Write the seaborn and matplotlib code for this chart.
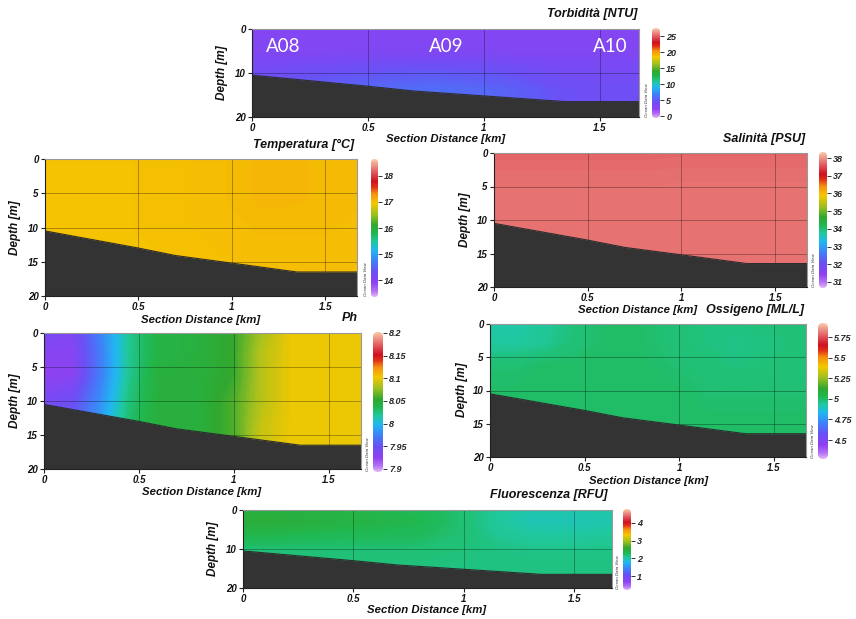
import numpy as np
import matplotlib
matplotlib.use("Agg")
import matplotlib.pyplot as plt
from matplotlib.colors import LinearSegmentedColormap
from matplotlib.patches import FancyBboxPatch
import seaborn as sns

# ---------------------------------------------------------------- data
dist_km = [0, 0.15, 0.3, 0.45, 0.6, 0.8, 1.0, 1.15, 1.3, 1.5, 1.67]
depth_m = [0, 3, 6, 10, 14, 20]

seafloor_dist = [0, 0.5, 0.7, 1.0, 1.35, 1.67]
seafloor_depth = [10.5, 13.0, 14.1, 15.2, 16.5, 16.5]

stations = ["A08", "A09", "A10"]
station_dist = [0.134, 0.836, 1.547]
station_depth = [3.9, 3.9, 3.9]

x_ticks = [0, 0.5, 1, 1.5]

turbidity = [
    [3.0, 3.0, 3.0, 3.0, 3.0, 3.0, 3.0, 3.0, 3.0, 3.0, 3.0],
    [3.1, 3.1, 3.1, 3.1, 3.1, 3.1, 3.1, 3.1, 3.1, 3.1, 3.1],
    [3.3, 3.3, 3.3, 3.4, 3.4, 3.4, 3.4, 3.3, 3.3, 3.3, 3.3],
    [4.0, 4.2, 4.4, 4.6, 4.8, 4.9, 4.7, 4.4, 4.0, 3.8, 3.8],
    [5.0, 5.2, 5.4, 5.6, 5.8, 5.9, 5.6, 5.2, 4.6, 4.2, 4.2],
    [5.0, 5.2, 5.4, 5.6, 5.8, 5.9, 5.6, 5.2, 4.6, 4.2, 4.2],
]

temperature = [
    [17.0, 17.0, 17.0, 17.0, 17.01, 17.02, 17.04, 17.06, 17.06, 17.05, 17.04],
    [17.0, 17.0, 17.0, 17.0, 17.01, 17.02, 17.04, 17.06, 17.06, 17.05, 17.04],
    [17.0, 17.0, 17.0, 17.0, 17.01, 17.02, 17.04, 17.06, 17.06, 17.05, 17.04],
    [17.0, 17.0, 17.0, 17.0, 17.01, 17.02, 17.03, 17.04, 17.04, 17.04, 17.03],
    [17.0, 17.0, 17.0, 17.0, 17.0, 17.01, 17.02, 17.03, 17.03, 17.03, 17.03],
    [17.0, 17.0, 17.0, 17.0, 17.0, 17.01, 17.02, 17.03, 17.03, 17.03, 17.03],
]

salinity = [
    [37.66, 37.66, 37.66, 37.66, 37.66, 37.66, 37.68, 37.68, 37.68, 37.68, 37.68],
    [37.76, 37.76, 37.76, 37.76, 37.76, 37.76, 37.77, 37.77, 37.77, 37.77, 37.77],
    [37.78, 37.78, 37.78, 37.78, 37.78, 37.78, 37.78, 37.78, 37.78, 37.78, 37.78],
    [37.78, 37.78, 37.78, 37.78, 37.78, 37.78, 37.78, 37.78, 37.78, 37.78, 37.78],
    [37.78, 37.78, 37.78, 37.78, 37.78, 37.78, 37.78, 37.78, 37.78, 37.78, 37.78],
    [37.78, 37.78, 37.78, 37.78, 37.78, 37.78, 37.78, 37.78, 37.78, 37.78, 37.78],
]

ph = [
    [7.94, 7.935, 7.975, 8.02, 8.04, 8.045, 8.055, 8.08, 8.10, 8.10, 8.10],
    [7.93, 7.93, 7.972, 8.02, 8.04, 8.045, 8.055, 8.085, 8.10, 8.10, 8.10],
    [7.925, 7.928, 7.972, 8.02, 8.045, 8.045, 8.055, 8.085, 8.10, 8.10, 8.10],
    [7.94, 7.945, 7.98, 8.025, 8.045, 8.045, 8.06, 8.085, 8.10, 8.10, 8.10],
    [7.95, 7.955, 7.99, 8.03, 8.045, 8.045, 8.06, 8.09, 8.10, 8.10, 8.10],
    [7.95, 7.955, 7.99, 8.03, 8.045, 8.045, 8.06, 8.09, 8.10, 8.10, 8.10],
]

oxygen = [
    [4.92, 4.92, 4.94, 4.98, 5.0, 5.0, 4.98, 4.97, 4.97, 4.98, 4.98],
    [4.93, 4.93, 4.95, 4.98, 5.0, 5.0, 4.98, 4.97, 4.96, 4.97, 4.98],
    [4.99, 4.99, 5.0, 5.0, 5.0, 5.0, 4.99, 4.98, 4.97, 4.98, 4.98],
    [5.0, 5.0, 5.0, 5.0, 5.0, 5.0, 5.0, 4.99, 4.99, 4.99, 4.99],
    [5.0, 5.0, 5.0, 5.0, 5.0, 5.0, 5.0, 5.0, 5.0, 5.0, 5.0],
    [5.0, 5.0, 5.0, 5.0, 5.0, 5.0, 5.0, 5.0, 5.0, 5.0, 5.0],
]

fluorescence = [
    [2.45, 2.45, 2.42, 2.38, 2.34, 2.3, 2.2, 2.06, 2.0, 2.0, 2.02],
    [2.5, 2.5, 2.46, 2.42, 2.38, 2.33, 2.2, 2.05, 1.98, 1.98, 2.0],
    [2.35, 2.35, 2.32, 2.3, 2.3, 2.28, 2.2, 2.08, 2.03, 2.03, 2.05],
    [2.2, 2.2, 2.2, 2.2, 2.2, 2.2, 2.17, 2.14, 2.12, 2.12, 2.12],
    [2.16, 2.16, 2.16, 2.16, 2.16, 2.16, 2.15, 2.15, 2.15, 2.15, 2.15],
    [2.16, 2.16, 2.16, 2.16, 2.16, 2.16, 2.15, 2.15, 2.15, 2.15, 2.15],
]

# ---------------------------------------------------------------- style
sns.set_theme(style="white")
plt.rcParams["font.family"] = ["Liberation Sans", "DejaVu Sans"]
plt.rcParams["font.weight"] = "bold"
plt.rcParams["font.style"] = "italic"

odv = LinearSegmentedColormap.from_list("odv", [
    (0.00, "#e2b4f8"), (0.04, "#b474f5"), (0.10, "#9040f0"),
    (0.18, "#6a50f5"), (0.26, "#3f80f8"), (0.34, "#20b8f0"),
    (0.40, "#20c8a0"), (0.46, "#20b850"), (0.52, "#30a830"),
    (0.60, "#a0c020"), (0.68, "#f5c800"), (0.75, "#f59010"),
    (0.80, "#e03018"), (0.84, "#d01020"), (0.92, "#e4686a"),
    (1.00, "#f8c8a8"),
])

W, H = 856, 619
fig = plt.figure(figsize=(W / 100, H / 100), dpi=100)
fig.patch.set_facecolor("white")


def rect(x0, y0, x1, y1):
    return [x0 / W, 1 - y1 / H, (x1 - x0) / W, (y1 - y0) / H]


def ftext(x, y, s, **kw):
    fig.text(x / W, 1 - y / H, s, fontweight="bold", fontstyle="italic", **kw)


panels = [
    dict(values=turbidity, vmin=-0.6, vmax=27.5, cticks=[0, 5, 10, 15, 20, 25],
         title="Torbidità [NTU]", ax=(252, 29, 639, 117), cb=(652, 28, 660, 118),
         yticks=[0, 10, 20], title_xy=(637, 14), xlabel_xy=(446, 139),
         ylabel_xy=(222, 73), stations=True),
    dict(values=temperature, vmin=13.35, vmax=18.65, cticks=[14, 15, 16, 17, 18],
         title="Temperatura [°C]", ax=(45, 159, 357, 296), cb=(371, 159, 378, 297),
         yticks=[0, 5, 10, 15, 20], title_xy=(354, 145), xlabel_xy=(201, 320),
         ylabel_xy=(15, 228), stations=False),
    dict(values=salinity, vmin=30.66, vmax=38.34, cticks=[31, 32, 33, 34, 35, 36, 37, 38],
         title="Salinità [PSU]", ax=(494, 153, 807, 287), cb=(819, 152, 827, 288),
         yticks=[0, 5, 10, 15, 20], title_xy=(805, 139), xlabel_xy=(638, 310),
         ylabel_xy=(465, 220), stations=False),
    dict(values=ph, vmin=7.893, vmax=8.202, cticks=[7.9, 7.95, 8, 8.05, 8.1, 8.15, 8.2],
         title="Ph", ax=(44, 333, 361, 469), cb=(373, 332, 383, 472),
         yticks=[0, 5, 10, 15, 20], title_xy=(358, 318), xlabel_xy=(202, 492),
         ylabel_xy=(15, 401), stations=False),
    dict(values=oxygen, vmin=4.27, vmax=5.92, cticks=[4.5, 4.75, 5, 5.25, 5.5, 5.75],
         title="Ossigeno [ML/L]", ax=(490, 324, 806, 457), cb=(818, 323, 828, 459),
         yticks=[0, 5, 10, 15, 20], title_xy=(804, 310), xlabel_xy=(649, 481),
         ylabel_xy=(462, 390), stations=False),
    dict(values=fluorescence, vmin=0.21, vmax=4.79, cticks=[1, 2, 3, 4],
         title="Fluorescenza [RFU]", ax=(243, 510, 612, 588), cb=(623, 509, 631, 590),
         yticks=[0, 10, 20], title_xy=(608, 495), xlabel_xy=(427, 610),
         ylabel_xy=(213, 549), stations=False),
]

X, Y = np.meshgrid(dist_km, depth_m)

for p in panels:
    vmin, vmax = p["vmin"], p["vmax"]
    ax = fig.add_axes(rect(*p["ax"]))
    Z = np.asarray(p["values"], dtype=float)
    ax.contourf(X, Y, Z, levels=np.linspace(vmin, vmax, 300), cmap=odv,
                vmin=vmin, vmax=vmax, antialiased=False, zorder=1)
    for gx in x_ticks[1:]:
        ax.axvline(gx, color="black", lw=0.6, alpha=0.35, zorder=2)
    for gy in p["yticks"][1:-1]:
        ax.axhline(gy, color="black", lw=0.6, alpha=0.35, zorder=2)
    ax.fill_between(seafloor_dist, seafloor_depth, 20, color="#333333", lw=0, zorder=3)
    sns.lineplot(x=seafloor_dist, y=seafloor_depth, ax=ax, color="#2e2e2e",
                 lw=0.8, legend=False, zorder=4)
    ax.set_xlim(0, 1.67)
    ax.set_ylim(20, 0)
    ax.set_xticks(x_ticks)
    ax.set_xticklabels(["%g" % t for t in x_ticks])
    ax.set_yticks(p["yticks"])
    ax.set_yticklabels(["%g" % t for t in p["yticks"]])
    ax.set_xlabel("")
    ax.set_ylabel("")
    ax.tick_params(axis="both", which="both", direction="out", length=3, width=0.8,
                   labelsize=7, pad=1.5, color="#222222", labelcolor="#111111",
                   bottom=True, left=True)
    for lab in ax.get_xticklabels() + ax.get_yticklabels():
        lab.set_fontweight("bold")
        lab.set_fontstyle("italic")
    for side, sp in ax.spines.items():
        sp.set_linewidth(0.8)
        sp.set_color("#222222" if side in ("left", "bottom") else "#999999")
        sp.set_zorder(5)

    if p["stations"]:
        for name, sd, sz in zip(stations, station_dist, station_depth):
            ax.text(sd, sz, name, color="white", fontsize=13.5, ha="center",
                    va="center", family=["Lato", "DejaVu Sans"],
                    fontweight="normal", fontstyle="normal", zorder=6)

    # colour bar with rounded ends
    cx0, cy0, cx1, cy1 = p["cb"]
    cax = fig.add_axes(rect(cx0, cy0, cx1, cy1))
    grad = np.linspace(vmin, vmax, 400).reshape(-1, 1)
    im = cax.imshow(grad, extent=(0, 1, vmin, vmax), origin="lower",
                    aspect="auto", cmap=odv, vmin=vmin, vmax=vmax)
    cax.set_xlim(0, 1)
    cax.set_ylim(vmin, vmax)
    aspect = (vmax - vmin) * (cx1 - cx0) / (cy1 - cy0)
    cap = FancyBboxPatch((0, vmin), 1, vmax - vmin,
                         boxstyle="round,pad=0,rounding_size=0.5",
                         mutation_aspect=aspect, transform=cax.transData,
                         facecolor="none", edgecolor="none")
    cax.add_patch(cap)
    im.set_clip_path(cap)
    for sp in cax.spines.values():
        sp.set_visible(False)
    cax.set_xticks([])
    cax.yaxis.tick_right()
    cax.set_yticks(p["cticks"])
    cax.set_yticklabels(["%g" % t for t in p["cticks"]])
    cax.tick_params(axis="y", direction="out", length=3, width=0.7, pad=1.5,
                    labelsize=6.5, color="#333333", right=True)
    for lab in cax.get_yticklabels():
        lab.set_fontweight("bold")
        lab.set_fontstyle("italic")

    fig.text((cx0 - 5) / W, 1 - (cy1 - 1) / H, "Ocean Data View", rotation=90,
             fontsize=3.2, ha="center", va="bottom", color="#333333",
             fontweight="normal", fontstyle="italic")

    ftext(p["title_xy"][0], p["title_xy"][1], p["title"], fontsize=9,
          ha="right", va="center", color="#111111")
    ftext(p["xlabel_xy"][0], p["xlabel_xy"][1], "Section Distance [km]",
          fontsize=8.2, ha="center", va="center", color="#111111")
    ftext(p["ylabel_xy"][0], p["ylabel_xy"][1], "Depth [m]", fontsize=8.5,
          ha="center", va="center", rotation=90, color="#111111")

fig.savefig("out.png", dpi=100, facecolor="white")
